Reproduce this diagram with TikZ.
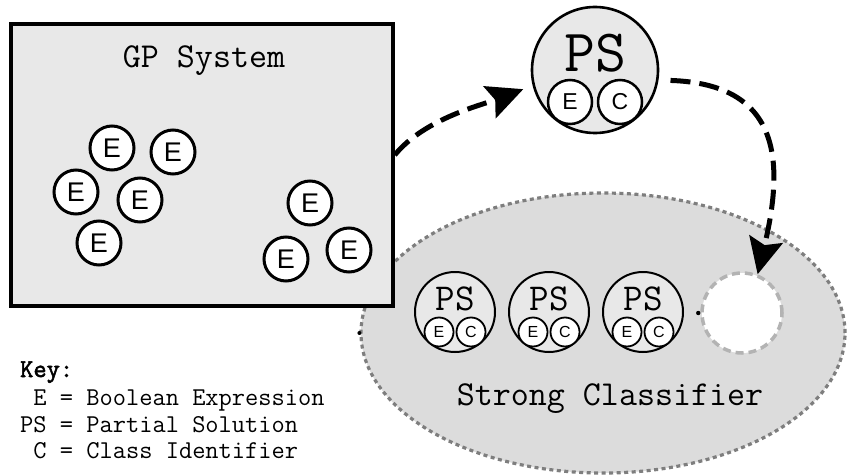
\documentclass[tikz,border=0pt]{standalone}
\usepackage{fontspec}
\usetikzlibrary{arrows.meta,shapes.geometric}
\newfontfamily\letterfont{Liberation Sans}
\newfontfamily\keyfont{Latin Modern Mono}
\newfontfamily\keyboldfont{Latin Modern Mono}[FakeBold=2.2]
\definecolor{boxfill}{HTML}{E8E8E8}
\definecolor{poolfill}{HTML}{DCDCDC}
\definecolor{poolline}{HTML}{7E7E7E}
\definecolor{slotline}{HTML}{B3B3B3}
\tikzset{
  gpbox/.style={draw, line width=3.5pt, fill=boxfill, minimum width=382pt, minimum height=282pt, inner sep=0pt},
  pool/.style={ellipse, draw=poolline, fill=poolfill, line width=3.2pt, dash pattern=on 4pt off 3.5pt, minimum width=484pt, minimum height=280pt, inner sep=0pt},
  expr/.style={circle, draw, line width=3pt, fill=white, minimum size=44pt, inner sep=0pt, font=\letterfont\fontsize{27pt}{27pt}\selectfont},
  psbig/.style={circle, draw, line width=2.6pt, fill=boxfill, minimum size=126pt, inner sep=0pt},
  pssmall/.style={circle, draw, line width=2pt, fill=boxfill, minimum size=80pt, inner sep=0pt},
  ecbig/.style={circle, draw, line width=2.5pt, fill=white, minimum size=44pt, inner sep=0pt, font=\letterfont\fontsize{23pt}{23pt}\selectfont},
  ecsmall/.style={circle, draw, line width=1.8pt, fill=white, minimum size=29pt, inner sep=0pt, font=\letterfont\fontsize{16pt}{16pt}\selectfont},
  pstextbig/.style={anchor=base, inner sep=0pt, font=\ttfamily\fontsize{60pt}{60pt}\selectfont},
  pstextsmall/.style={anchor=base, inner sep=0pt, font=\ttfamily\fontsize{38pt}{38pt}\selectfont},
  title/.style={anchor=base, inner sep=0pt, font=\ttfamily\fontsize{35pt}{35pt}\selectfont},
  keyline/.style={anchor=base west, inner sep=0pt, font=\keyfont\fontsize{25.7pt}{25.7pt}\selectfont},
  slot/.style={circle, draw=slotline, fill=white, line width=3.5pt, dash pattern=on 8pt off 5pt, minimum size=80pt, inner sep=0pt},
  flow/.style={line width=5pt, dash pattern=on 20pt off 9pt, -{Stealth[length=36pt,width=34pt,inset=6pt]}}
}
\begin{document}
\begin{tikzpicture}[x=1pt,y=-1pt]
\useasboundingbox (0,0) rectangle (848,476);

% strong classifier pool
\node[pool] (sc) at (603,333) {};
\node[title] (sclabel) at (610,405) {Strong Classifier};
\fill (sc.west) circle (2pt);

% GP system box with its population of expressions
\node[gpbox] (gp) at (202,165) {};
\node[title] (gplabel) at (204,68) {GP System};
\node[expr] (e1) at (112,148) {E};
\node[expr] (e2) at (173,152) {E};
\node[expr] (e3) at (76,192) {E};
\node[expr] (e4) at (140,200) {E};
\node[expr] (e5) at (99,243) {E};
\node[expr] (e6) at (310,203) {E};
\node[expr] (e7) at (286,259) {E};
\node[expr] (e8) at (349,250) {E};

% selected partial solution
\node[psbig] (ps) at (595,70) {};
\node[pstextbig] (pslabel) at (595,72) {PS};
\node[ecbig] (pse) at (570,102) {E};
\node[ecbig] (psc) at (620,102) {C};

% partial solutions already in the classifier
\node[pssmall] (p1) at (455,312) {};
\node[pstextsmall] (p1l) at (455,310) {PS};
\node[ecsmall] (p1e) at (439,332) {E};
\node[ecsmall] (p1c) at (471,332) {C};

\node[pssmall] (p2) at (549,312) {};
\node[pstextsmall] (p2l) at (549,310) {PS};
\node[ecsmall] (p2e) at (533,332) {E};
\node[ecsmall] (p2c) at (565,332) {C};

\node[pssmall] (p3) at (643,312) {};
\node[pstextsmall] (p3l) at (643,310) {PS};
\node[ecsmall] (p3e) at (627,332) {E};
\node[ecsmall] (p3c) at (659,332) {C};

% empty slot for the next one
\node[slot] (next) at (742,313) {};
\fill ([xshift=-2pt]next.west) circle (2.2pt);

% flow arrows
\draw[flow, shorten >=10pt] ([yshift=10pt]gp.east) .. controls (425,118) and (485,104) .. (ps.194);
\draw[flow, shorten <=12pt] (ps.-9) .. controls (780,84) and (785,160) .. (next.68);

% key
\node[keyline] (k0) at (20,377) {\keyboldfont Key:};
\node[keyline] (k1) at (20,405) {\phantom{P}E = Boolean Expression};
\node[keyline] (k2) at (20,432) {PS = Partial Solution};
\node[keyline] (k3) at (20,458) {\phantom{P}C = Class Identifier};
\end{tikzpicture}
\end{document}
